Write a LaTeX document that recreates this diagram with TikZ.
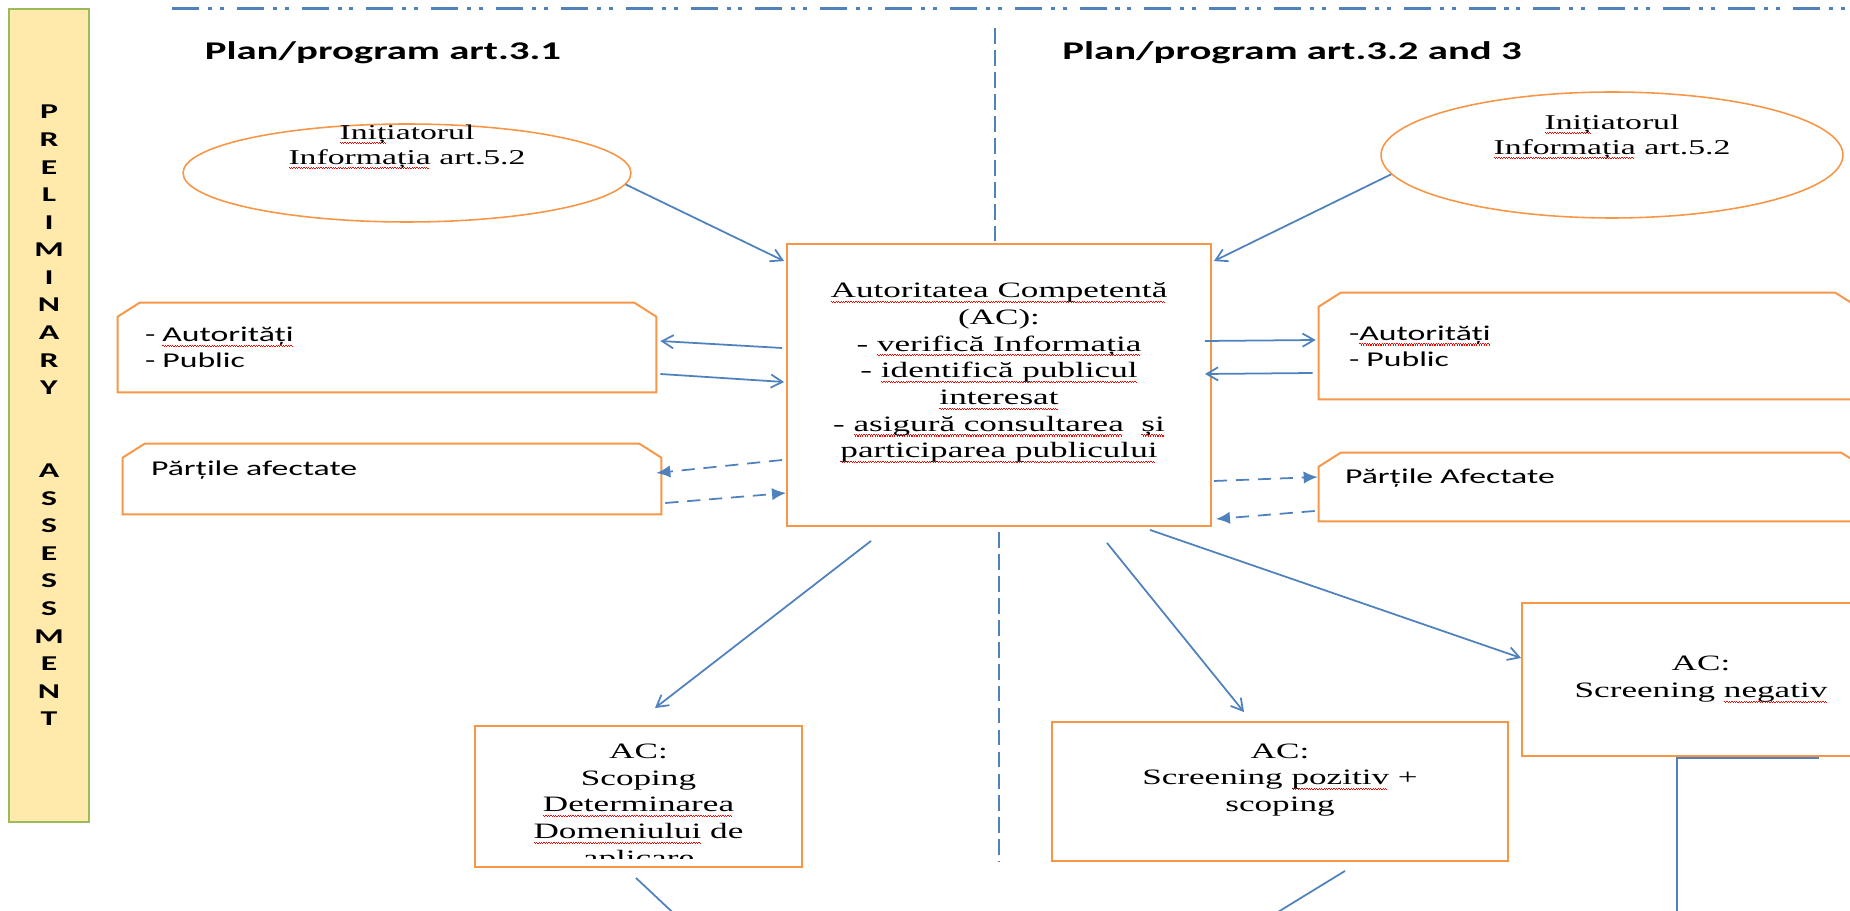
\documentclass[tikz,border=0pt]{standalone}
\usepackage{fontspec}
\usetikzlibrary{shapes.geometric,arrows.meta}
\setmainfont[FakeStretch=1.6]{Liberation Serif}
\newfontfamily\calfont[FakeStretch=1.6]{Carlito}
\definecolor{lineblue}{RGB}{79,129,189}
\definecolor{boxorange}{RGB}{247,150,70}
\definecolor{bandfill}{RGB}{255,234,172}
\definecolor{bandgreen}{RGB}{155,187,89}
\newsavebox\wavebox
% red spell-check squiggle under a word
\newcommand\redwave[1]{\sbox\wavebox{#1}\rlap{\color{red}\hbox to\wd\wavebox{\leaders\hbox{\vrule width0.7pt height-1.8pt depth2.4pt\vrule width0.7pt height-2.4pt depth3pt}\hfil}}\usebox\wavebox}

\begin{document}
\begin{tikzpicture}[x=0.02cm,y=-0.02cm,
    box/.style={draw=boxorange,line width=1.1pt,inner sep=0pt,align=center},
    cbox/.style={inner sep=0pt,align=left,font=\calfont\fontsize{12}{14.7}\selectfont},
    cline/.style={draw=boxorange,line width=1.1pt},
    oval/.style={draw=boxorange,line width=0.9pt,ellipse,inner sep=0pt},
    ovaltext/.style={align=center,font=\fontsize{12}{14.2}\selectfont},
    actext/.style={align=center,font=\fontsize{12.5}{15.2}\selectfont},
    title/.style={font=\calfont\bfseries\fontsize{14.5}{17}\selectfont},
    band/.style={draw=bandgreen,fill=bandfill,line width=1.4pt,inner sep=0pt,align=center,font=\calfont\bfseries\fontsize{12}{15.7}\selectfont},
    arr/.style={draw=lineblue,line width=1pt,-{Straight Barb[length=6.5pt,width=7.5pt]}},
    darr/.style={draw=lineblue,line width=1pt,dash pattern=on 7.5pt off 5pt,-{Latex[length=8pt,width=7pt]}},
    link/.style={draw=lineblue,line width=1pt},
    sepline/.style={draw=lineblue,line width=1.1pt,dash pattern=on 9pt off 3.5pt},
    topline/.style={draw=lineblue,line width=1.7pt,dash pattern=on 15.3pt off 5.1pt on 2.3pt off 4.5pt on 2.3pt off 7.4pt}]
  \clip (0,0) rectangle (1850,911);

  % separators
  \coordinate (topL) at (172,9);
  \coordinate (topR) at (1850,9);
  \coordinate (sepTop) at (995,28);
  \coordinate (sepBot) at (999,862);
  \draw[topline] (topL) -- (topR);

  % left band
  \node[band,minimum width=1.6cm,minimum height=16.26cm] (band) at (49,415.5)
    {P\\R\\E\\L\\I\\M\\I\\N\\A\\R\\Y\\[31.4pt]A\\S\\S\\E\\S\\S\\M\\E\\N\\T};

  % titles
  \node[title] (leftTitle) at (383,53) {Plan/program art.3.1};
  \node[title] (rightTitle) at (1292,53) {Plan/program art.3.2 and 3};

  % initiator
  \node[oval,minimum width=8.96cm,minimum height=1.96cm,
    label={[ovaltext,yshift=0.52cm]center:{\redwave{Iniț}iatorul\\\redwave{Informația} art.5.2}}] (initL) at (407,173) {};
  \node[oval,minimum width=9.24cm,minimum height=2.52cm,
    label={[ovaltext,yshift=0.36cm]center:{\redwave{Iniț}iatorul\\\redwave{Informația} art.5.2}}] (initR) at (1612,155) {};

  % competent authority
  \node[box,minimum width=8.48cm,minimum height=5.64cm,
    label={[actext,yshift=0.24cm]center:{\redwave{Autoritatea Competentă}\\(AC):\\- \redwave{verifică Informația}\\- \redwave{identifică publicul}\\\redwave{interesat}\\- \redwave{asigură consultarea}\ \ \redwave{și}\\\redwave{participarea publicului}}}] (CA) at (999,385) {};
  \draw[sepline] (sepTop) -- (sepTop |- CA.north);
  \draw[sepline] ([shift={(0,5)}]CA.south) -- (sepBot);

  % consulted parties
  \node[cbox,minimum width=10.76cm,minimum height=1.78cm,text width=9.68cm] (A1) at (387,347.5) {- \redwave{Autorități}\\- Public};
  \node[cbox,minimum width=10.76cm,minimum height=1.4cm,text width=9.64cm,text height=9pt,text depth=12.5pt] (A2) at (392,479) {Părțile afectate};
  \node[cbox,minimum width=10.76cm,minimum height=2.12cm,text width=9.56cm] (B1) at (1588,346) {-\redwave{Autorități}\\- Public};
  \node[cbox,minimum width=10.88cm,minimum height=1.36cm,text width=9.84cm,text height=9pt,text depth=12.5pt] (B2) at (1591,487) {Părțile Afectate};
  \foreach \n in {A1,A2,B1,B2}
    \draw[cline] (\n.south west) -- ([shift={(0,14)}]\n.north west) -- ([shift={(22,0)}]\n.north west)
      -- ([shift={(-22,0)}]\n.north east) -- ([shift={(0,14)}]\n.north east) -- (\n.south east) -- cycle;

  % decisions
  \node[box,minimum width=6.54cm,minimum height=2.82cm] (Scop) at (638.5,796.5) {};
  \begin{scope}
    \clip (Scop.north west) rectangle ([shift={(0,-9)}]Scop.south east);
    \node[actext] (ScopText) at (638.5,807) {AC:\\Scoping\\\redwave{Determinarea}\\\redwave{Domeniului} de\\aplicare};
  \end{scope}
  \node[box,minimum width=9.12cm,minimum height=2.78cm,
    label={[actext,yshift=0.23cm]center:{AC:\\Screening \redwave{pozitiv} +\\scoping}}] (ScrP) at (1280,791.5) {};
  \node[box,actext,minimum width=7.16cm,minimum height=3.06cm] (ScrN) at (1701,679.5) {AC:\\Screening \redwave{negativ}};

  % arrows
  \draw[arr] (initL.-3) -- ([shift={(-2,18)}]CA.north west);
  \draw[arr] (initR.185) -- ([shift={(2,18)}]CA.north east);
  \draw[arr] ([shift={(-4,-37)}]CA.west) -- ([shift={(4,-6.5)}]A1.east);
  \draw[arr] ([shift={(4,26.5)}]A1.east) -- ([shift={(-2,-3)}]CA.west);
  \draw[darr] ([shift={(-4,75)}]CA.west) -- ([shift={(-5,-6)}]A2.east);
  \draw[darr] ([shift={(4,24)}]A2.east) -- ([shift={(0,108)}]CA.west);
  \draw[arr] ([shift={(-7,-44)}]CA.east) -- ([shift={(-3,-6)}]B1.west);
  \draw[arr] ([shift={(-6,27)}]B1.west) -- ([shift={(-7,-11)}]CA.east);
  \draw[darr] ([shift={(2,96)}]CA.east) -- ([shift={(-1,-10)}]B2.west);
  \draw[darr] ([shift={(-4,24)}]B2.west) -- ([shift={(4,134)}]CA.east);
  \draw[arr] ([shift={(-128,14)}]CA.south) -- ([shift={(16.5,-17)}]Scop.north);
  \draw[arr] ([shift={(108,16)}]CA.south) -- ([shift={(-36,-9)}]ScrP.north);
  \draw[arr] ([shift={(151,3)}]CA.south) -- ([shift={(0,-21.5)}]ScrN.west);

  % continuing links
  \draw[link] ([shift={(-2.5,10)}]Scop.south) -- ++(50,47);
  \draw[link] ([shift={(65,9)}]ScrP.south) -- ++(-98,60);
  \draw[link] ([shift={(118,1)}]ScrN.south) -- ([shift={(-24,1)}]ScrN.south) -- ++(0,200);
\end{tikzpicture}
\end{document}
